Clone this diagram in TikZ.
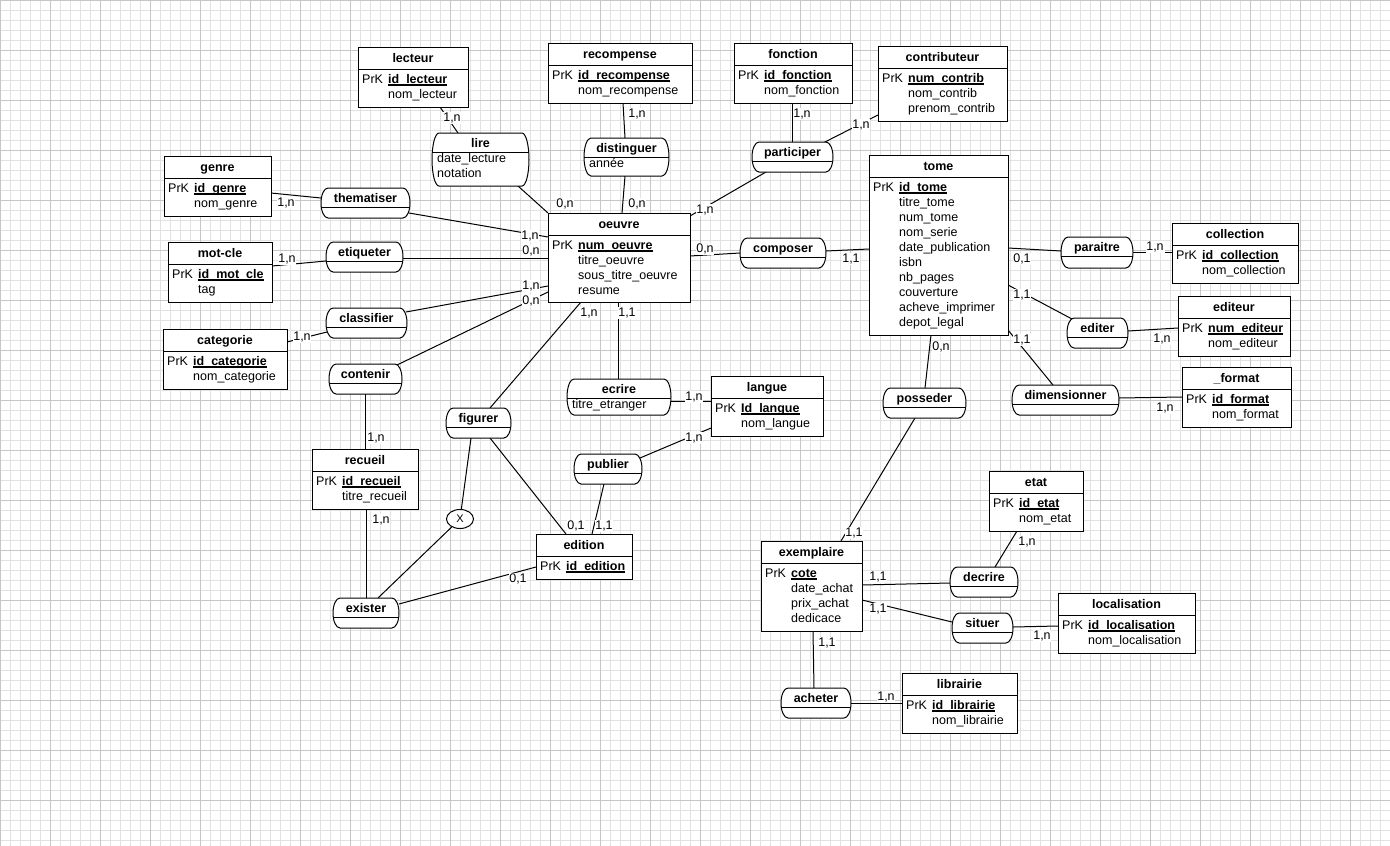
\documentclass[tikz,border=0pt]{standalone}
\usepackage{fontspec}
\setmainfont{Liberation Sans}
\usetikzlibrary{calc,shapes.geometric}
\definecolor{gminor}{HTML}{E2E2E2}
\definecolor{gmajor}{HTML}{C6C6C6}
\pgfdeclarelayer{bg}
\pgfsetlayers{bg,main}
\tikzset{
 gridminor/.style={draw=gminor, line width=0.7pt},
 gridmajor/.style={draw=gmajor, line width=0.8pt},
 entbox/.style={draw=black, line width=1pt, fill=white, rectangle, inner sep=0pt, outer sep=0pt},
 assonode/.style={rectangle, inner sep=0pt, outer sep=0pt},
 assoline/.style={draw=black, fill=white, line width=1pt},
 sepline/.style={draw=black, line width=1pt},
 ttl/.style={font=\fontsize{12.5}{14}\selectfont\bfseries, anchor=base, inner sep=0pt},
 atxt/.style={font=\fontsize{12.5}{14}\selectfont, anchor=base west, inner sep=0pt},
 link/.style={draw=black, line width=1pt},
 card/.style={font=\fontsize{12.5}{14}\selectfont, fill=white, inner sep=0.8pt},
 xcirc/.style={ellipse, draw=black, line width=1pt, fill=white, minimum width=27pt, minimum height=19pt, inner sep=0pt, font=\fontsize{11}{13}\selectfont},
}
\newcommand\keyul[1]{\sbox0{#1}\rlap{\rule[-2.5pt]{\wd0}{1.2pt}}\usebox0}
% entity: name, L, T, R, B, title
\newcommand\ent[6]{%
 \node[entbox, minimum width={(#4-#2)*1pt}, minimum height={(#5-#3)*1pt}] (#1) at ({(#2+#4)/2},{(#3+#5)/2}) {};
 \draw[sepline] (#2,#3+22) -- (#4,#3+22);
 \node[ttl] (#1-t) at ({(#2+#4)/2},#3+15.5) {#6};
}
% primary key: name, L, T, key
\newcommand\pkey[4]{%
 \node[atxt] (#1-pk) at (#2+4,#3+36) {PrK};
 \node[atxt] (#1-k) at (#2+30,#3+36) {\bfseries\keyul{#4}};
}
% other attributes: name, L, T, list
\newcommand\atts[4]{%
 \foreach \t [count=\i] in {#4} {\node[atxt] (#1-a\i) at (#2+30,#3+36+15*\i) {\t};}
}
% association: name, L, T, R, B, title  (straight top/bottom, half-elliptic ends)
\newcommand\asso[6]{%
 \node[assonode, minimum width={(#4-#2)*1pt}, minimum height={(#5-#3)*1pt}] (#1) at ({(#2+#4)/2},{(#3+#5)/2}) {};
 \path[assoline] ($(#1.north east)+(-7,0)$) arc[start angle=90, end angle=-90, x radius=7pt, y radius={(#5-#3)/2*1pt}]
   -- ($(#1.south west)+(7,0)$) arc[start angle=270, end angle=90, x radius=7pt, y radius={(#5-#3)/2*1pt}] -- cycle;
 \draw[sepline] ({#2+7-7*sqrt(1-((#5-#3)/2-19)^2/((#5-#3)/2)^2)},#3+19) -- ({#4-7+7*sqrt(1-((#5-#3)/2-19)^2/((#5-#3)/2)^2)},#3+19);
 \node[ttl] (#1-t) at ({(#2+#4)/2},#3+14.5) {#6};
}
\newcommand\aatts[4]{%
 \foreach \t [count=\i] in {#4} {\node[atxt] (#1-a\i) at (#2+5,#3+14.5+15*\i) {\t};}
}
\newcommand\lnk[4]{\draw[link] ($(#1.north west)+(#2)$) -- ($(#3.north west)+(#4)$);}
\newcommand\crd[4]{\node[card] (#1) at (#2,#3) {#4};}

\begin{document}
\begin{tikzpicture}[x=1pt,y=-1pt]
\useasboundingbox (0,0) rectangle (1390,846);
\begin{pgfonlayer}{bg}
\fill[white] (0,0) rectangle (1390,846);
\foreach \x in {0,10,...,1390} {\draw[gridminor] (\x,0) -- (\x,846);}
\foreach \y in {0,10,...,840} {\draw[gridminor] (0,\y) -- (1390,\y);}
\foreach \x in {0,50,...,1350} {\draw[gridmajor] (\x,0) -- (\x,846);}
\foreach \y in {0,50,...,800} {\draw[gridmajor] (0,\y) -- (1390,\y);}
\end{pgfonlayer}

% ---------------- entities
\ent{lecteur}{358}{47}{468}{107}{lecteur}
\pkey{lecteur}{358}{47}{id\_lecteur}
\atts{lecteur}{358}{47}{nom\_lecteur}

\ent{recompense}{548}{43}{692}{103}{recompense}
\pkey{recompense}{548}{43}{id\_recompense}
\atts{recompense}{548}{43}{nom\_recompense}

\ent{fonction}{734}{43}{852}{103}{fonction}
\pkey{fonction}{734}{43}{id\_fonction}
\atts{fonction}{734}{43}{nom\_fonction}

\ent{contributeur}{878}{46}{1007}{121}{contributeur}
\pkey{contributeur}{878}{46}{num\_contrib}
\atts{contributeur}{878}{46}{nom\_contrib,prenom\_contrib}

\ent{tome}{869}{155}{1008}{335}{tome}
\pkey{tome}{869}{155}{id\_tome}
\atts{tome}{869}{155}{titre\_tome,num\_tome,nom\_serie,date\_publication,isbn,nb\_pages,couverture,acheve\_imprimer,depot\_legal}

\ent{collection}{1172}{223}{1298}{283}{collection}
\pkey{collection}{1172}{223}{id\_collection}
\atts{collection}{1172}{223}{nom\_collection}

\ent{editeur}{1178}{296}{1290}{356}{editeur}
\pkey{editeur}{1178}{296}{num\_editeur}
\atts{editeur}{1178}{296}{nom\_editeur}

\ent{format}{1182}{367}{1291}{427}{\_format}
\pkey{format}{1182}{367}{id\_format}
\atts{format}{1182}{367}{nom\_format}

\ent{genre}{164}{156}{271}{216}{genre}
\pkey{genre}{164}{156}{id\_genre}
\atts{genre}{164}{156}{nom\_genre}

\ent{motcle}{168}{242}{272}{302}{mot-cle}
\pkey{motcle}{168}{242}{id\_mot\_cle}
\atts{motcle}{168}{242}{tag}

\ent{categorie}{163}{329}{287}{389}{categorie}
\pkey{categorie}{163}{329}{id\_categorie}
\atts{categorie}{163}{329}{nom\_categorie}

\ent{oeuvre}{548}{213}{690}{302}{oeuvre}
\pkey{oeuvre}{548}{213}{num\_oeuvre}
\atts{oeuvre}{548}{213}{titre\_oeuvre,sous\_titre\_oeuvre,resume}

\ent{langue}{711}{376}{823}{436}{langue}
\pkey{langue}{711}{376}{Id\_langue}
\atts{langue}{711}{376}{nom\_langue}

\ent{recueil}{312}{449}{418}{509}{recueil}
\pkey{recueil}{312}{449}{id\_recueil}
\atts{recueil}{312}{449}{titre\_recueil}

\ent{edition}{536}{534}{632}{579}{edition}
\pkey{edition}{536}{534}{id\_edition}

\ent{exemplaire}{761}{541}{862}{631}{exemplaire}
\pkey{exemplaire}{761}{541}{cote}
\atts{exemplaire}{761}{541}{date\_achat,prix\_achat,dedicace}

\ent{etat}{989}{471}{1083}{531}{etat}
\pkey{etat}{989}{471}{id\_etat}
\atts{etat}{989}{471}{nom\_etat}

\ent{localisation}{1058}{593}{1195}{653}{localisation}
\pkey{localisation}{1058}{593}{id\_localisation}
\atts{localisation}{1058}{593}{nom\_localisation}

\ent{librairie}{902}{673}{1017}{733}{librairie}
\pkey{librairie}{902}{673}{id\_librairie}
\atts{librairie}{902}{673}{nom\_librairie}

% ---------------- associations
\asso{lire}{432}{133}{529}{186}{lire}
\aatts{lire}{432}{133}{date\_lecture,notation}
\asso{distinguer}{584}{138}{669}{176}{distinguer}
\aatts{distinguer}{584}{138}{année}
\asso{participer}{752}{142}{833}{172}{participer}
\asso{thematiser}{321}{188}{410}{218}{thematiser}
\asso{etiqueter}{326}{242}{403}{272}{etiqueter}
\asso{classifier}{326}{308}{407}{338}{classifier}
\asso{contenir}{329}{364}{402}{394}{contenir}
\asso{figurer}{446}{408}{511}{438}{figurer}
\asso{composer}{740}{238}{826}{268}{composer}
\asso{ecrire}{567}{379}{671}{415}{ecrire}
\aatts{ecrire}{567}{379}{titre\_etranger}
\asso{publier}{574}{454}{642}{484}{publier}
\asso{exister}{333}{598}{399}{628}{exister}
\asso{paraitre}{1061}{237}{1133}{268}{paraitre}
\asso{editer}{1067}{318}{1128}{348}{editer}
\asso{posseder}{883}{388}{966}{418}{posseder}
\asso{dimensionner}{1012}{385}{1119}{415}{dimensionner}
\asso{decrire}{950}{567}{1018}{597}{decrire}
\asso{situer}{952}{613}{1013}{643}{situer}
\asso{acheter}{781}{688}{851}{718}{acheter}
\node[xcirc] (x) at (460,519) {X};

% ---------------- connectors
\begin{pgfonlayer}{bg}
\lnk{lecteur}{82,60}{lire}{26,0}
\lnk{lire}{86,53}{oeuvre}{0,0}
\lnk{recompense}{75,60}{distinguer}{41,0}
\lnk{distinguer}{41,38}{oeuvre}{74,0}
\lnk{fonction}{58,60}{participer}{40,0}
\lnk{contributeur}{0,69}{participer}{71,1}
\lnk{participer}{14,30}{oeuvre}{142,3}
\lnk{genre}{107,37}{thematiser}{0,10}
\lnk{thematiser}{88,25}{oeuvre}{0,24}
\lnk{motcle}{104,24}{etiqueter}{0,19}
\lnk{etiqueter}{77,16}{oeuvre}{0,45}
\lnk{categorie}{124,13}{classifier}{1,24}
\lnk{classifier}{80,4}{oeuvre}{0,73}
\lnk{contenir}{68,1}{oeuvre}{0,79}
\lnk{contenir}{36,30}{recueil}{53,0}
\lnk{figurer}{44,0}{oeuvre}{33,89}
\lnk{oeuvre}{70,89}{ecrire}{51,0}
\lnk{ecrire}{104,22}{langue}{0,25}
\lnk{publier}{66,4}{langue}{0,52}
\lnk{publier}{30,30}{edition}{56,0}
\lnk{figurer}{44,30}{edition}{30,0}
\draw[link] ($(figurer.north west)+(25,30)$) -- (x);
\draw[link] (x) -- ($(exister.north west)+(45,0)$);
\lnk{recueil}{54,60}{exister}{33,0}
\lnk{exister}{66,6}{edition}{0,33}
\lnk{oeuvre}{142,43}{composer}{0,15}
\lnk{composer}{86,13}{tome}{0,94}
\lnk{tome}{139,93}{paraitre}{0,14}
\lnk{paraitre}{72,15}{collection}{0,29}
\lnk{tome}{139,130}{editer}{5,1}
\lnk{editer}{61,13}{editeur}{0,32}
\lnk{tome}{139,175}{dimensionner}{41,0}
\lnk{dimensionner}{107,13}{format}{0,30}
\lnk{tome}{62,180}{posseder}{42,0}
\lnk{posseder}{32,30}{exemplaire}{80,0}
\lnk{exemplaire}{101,44}{decrire}{0,16}
\lnk{etat}{28,60}{decrire}{45,0}
\lnk{exemplaire}{101,59}{situer}{0,9}
\lnk{situer}{61,14}{localisation}{0,33}
\lnk{exemplaire}{52,90}{acheter}{33,0}
\lnk{acheter}{70,15}{librairie}{0,30}
\end{pgfonlayer}

% ---------------- cardinalities
\crd{c1}{452}{118}{1,n}
\crd{c2}{565}{204}{0,n}
\crd{c3}{637}{114}{1,n}
\crd{c4}{637}{204}{0,n}
\crd{c5}{802}{114}{1,n}
\crd{c6}{861}{125}{1,n}
\crd{c7}{705}{210}{1,n}
\crd{c8}{286}{203}{1,n}
\crd{c9}{530}{236}{1,n}
\crd{c10}{287}{259}{1,n}
\crd{c11}{531}{251}{0,n}
\crd{c12}{302}{337}{1,n}
\crd{c13}{531}{286}{1,n}
\crd{c14}{531}{301}{0,n}
\crd{c15}{376}{438}{1,n}
\crd{c16}{589}{313}{1,n}
\crd{c17}{627}{313}{1,1}
\crd{c18}{694}{397}{1,n}
\crd{c19}{694}{438}{1,n}
\crd{c20}{604}{526}{1,1}
\crd{c21}{576}{526}{0,1}
\crd{c22}{381}{520}{1,n}
\crd{c23}{518}{579}{0,1}
\crd{c24}{705}{249}{0,n}
\crd{c25}{851}{259}{1,1}
\crd{c26}{1022}{259}{0,1}
\crd{c27}{1155}{247}{1,n}
\crd{c28}{1022}{295}{1,1}
\crd{c29}{1162}{339}{1,n}
\crd{c30}{1022}{340}{1,1}
\crd{c31}{1165}{408}{1,n}
\crd{c32}{941}{347}{0,n}
\crd{c33}{854}{533}{1,1}
\crd{c34}{878}{577}{1,1}
\crd{c35}{1027}{542}{1,n}
\crd{c36}{878}{609}{1,1}
\crd{c37}{1042}{636}{1,n}
\crd{c38}{827}{643}{1,1}
\crd{c39}{886}{697}{1,n}
\end{tikzpicture}
\end{document}
